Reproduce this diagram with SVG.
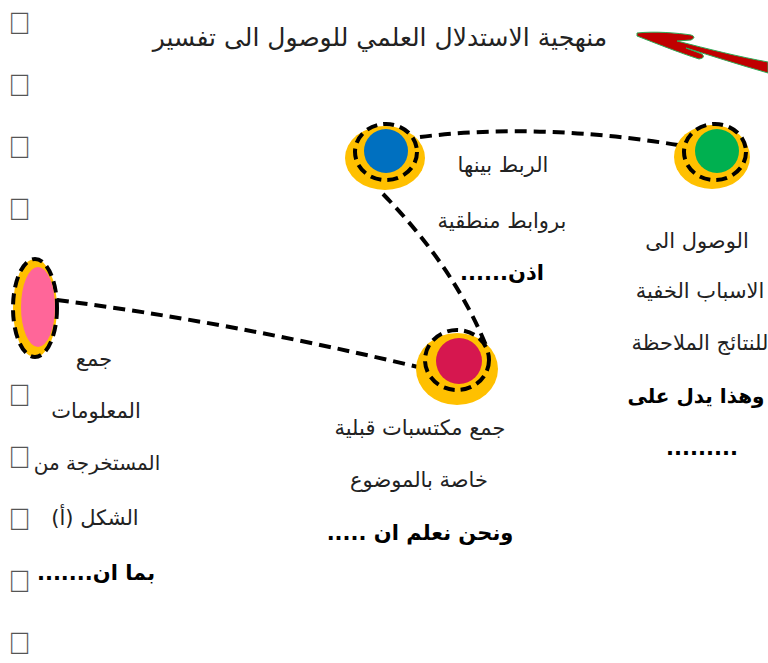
<svg xmlns="http://www.w3.org/2000/svg" width="768" height="663" viewBox="0 0 768 663">
  <style>
    .ar { font-family: "DejaVu Sans", "Noto Sans", sans-serif; font-size: 21px; fill: #222; text-anchor: middle; direction: rtl; unicode-bidi: embed; }
    .b { font-weight: bold; fill: #000; }
    .title { font-family: "DejaVu Sans", "Noto Sans", sans-serif; font-size: 25px; fill: #222; text-anchor: middle; direction: rtl; unicode-bidi: embed; }
    .tofu { font-family: "Liberation Sans", sans-serif; font-size: 31px; fill: #555; }
    .link { fill: none; stroke: #000; stroke-width: 4; stroke-dasharray: 12 7; }
    .halo { fill: #FFC000; }
    .ring { fill: none; stroke: #000; stroke-width: 4; stroke-dasharray: 11 6; }
  </style>

  <!-- bullet glyphs down the left margin -->
  <g id="bullets" class="tofu">
    <text x="8" y="34">&#xF0D8;</text>
    <text x="8" y="96">&#xF0D8;</text>
    <text x="8" y="158">&#xF0D8;</text>
    <text x="8" y="220">&#xF0D8;</text>
    <text x="8" y="406">&#xF0D8;</text>
    <text x="8" y="468">&#xF0D8;</text>
    <text x="8" y="530">&#xF0D8;</text>
    <text x="8" y="592">&#xF0D8;</text>
    <text x="8" y="654">&#xF0D8;</text>
  </g>

  <!-- heading -->
  <g id="title">
    <text class="title" x="380" y="46">منهجية الاستدلال العلمي  للوصول الى تفسير</text>
  </g>

  <!-- hand-drawn red arrow pointing at the heading -->
  <g id="pointer">
    <path d="M637,33 C655,31 678,33 691,35 Q697,37 691,40 L677,41 C708,49 740,57 768,62 L768,73 C740,65 712,56 686,48 L702,54 Q706,58 699,59 C680,53 655,43 637,36 Z"
          fill="#C00000" stroke="#2EAA55" stroke-width="1" stroke-linejoin="round"/>
  </g>

  <!-- dashed connectors -->
  <g id="connectors">
    <path class="link" d="M420,137 Q540,122 684,146"/>
    <path class="link" d="M383,194 Q455,268 487,348"/>
    <path class="link" d="M57,300 Q230,322 418,367"/>
  </g>

  <!-- blue node -->
  <g id="node-link">
    <ellipse class="halo" cx="385" cy="158" rx="40" ry="32"/>
    <ellipse class="ring" cx="386" cy="152" rx="31" ry="28"/>
    <circle cx="386" cy="151" r="22" fill="#0070C0"/>
    <text class="ar" x="503" y="172">الربط بينها</text>
    <text class="ar" x="502" y="228">بروابط منطقية</text>
    <text class="ar b" x="502" y="280">اذن......</text>
  </g>

  <!-- green node -->
  <g id="node-cause">
    <ellipse class="halo" cx="712" cy="157" rx="38" ry="32"/>
    <ellipse class="ring" cx="715" cy="152" rx="31" ry="28"/>
    <circle cx="717" cy="151" r="22" fill="#00B050"/>
    <text class="ar" x="697" y="248">الوصول الى</text>
    <text class="ar" x="700" y="298">الاسباب الخفية</text>
    <text class="ar" x="700" y="350">للنتائج الملاحظة</text>
    <text class="ar b" x="696" y="403" style="font-size:20px">وهذا يدل على</text>
    <text class="ar b" x="702" y="455">.........</text>
  </g>

  <!-- crimson node -->
  <g id="node-prior">
    <ellipse class="halo" cx="457" cy="369" rx="41" ry="36"/>
    <ellipse class="ring" cx="457" cy="360" rx="32" ry="30"/>
    <circle cx="459" cy="361" r="23" fill="#D6174F"/>
    <text class="ar" x="420" y="435">جمع مكتسبات قبلية</text>
    <text class="ar" x="419" y="487">خاصة بالموضوع</text>
    <text class="ar b" x="420" y="540">ونحن نعلم ان .....</text>
  </g>

  <!-- pink node -->
  <g id="node-data">
    <ellipse cx="35" cy="308" rx="22" ry="49" fill="#FFC000" stroke="#000" stroke-width="4" stroke-dasharray="11 6"/>
    <ellipse cx="38" cy="307" rx="17" ry="40" fill="#FF6699"/>
    <text class="ar" x="94" y="366">جمع</text>
    <text class="ar" x="96" y="418">المعلومات</text>
    <text class="ar" x="97" y="470" style="font-size:20px">المستخرجة من</text>
    <text class="ar" x="95" y="525">الشكل (أ)</text>
    <text class="ar b" x="96" y="580">بما ان.......</text>
  </g>
</svg>
